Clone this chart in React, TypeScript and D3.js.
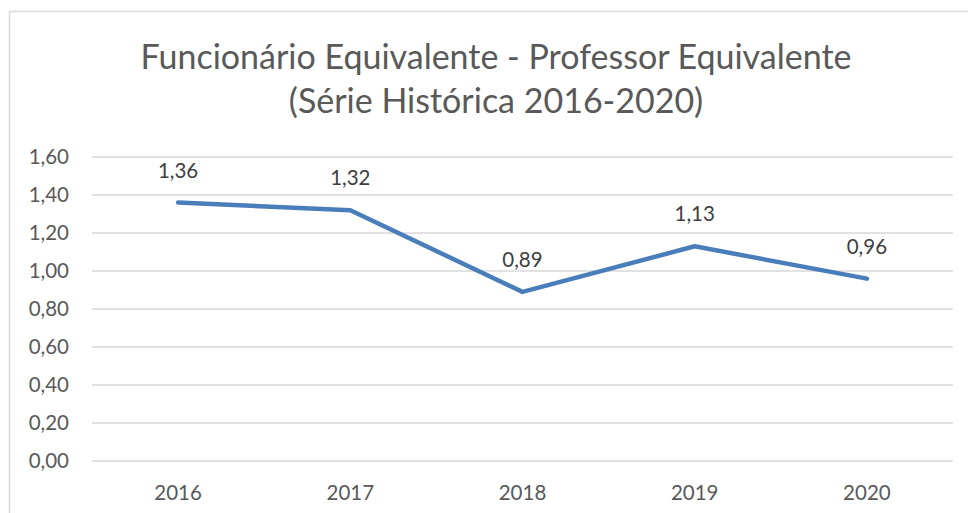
import * as d3 from "d3";
import React from "react";

const years = ["2016", "2017", "2018", "2019", "2020"];
const values = [1.36, 1.32, 0.89, 1.13, 0.96];
const yTicks = [0, 0.2, 0.4, 0.6, 0.8, 1.0, 1.2, 1.4, 1.6];
const titleLines = ["Funcionário Equivalente - Professor Equivalente", "(Série Histórica 2016-2020)"];

const W = 968;
const H = 513;
const FONT = "Lato, 'Open Sans', sans-serif";
const TEXT = "#595959";

export default function App() {
  const x = d3.scaleBand().domain(years).range([92, 953]);
  const y = d3.scaleLinear().domain([0, 1.6]).range([461, 157]);
  const fmt = (v: number) => v.toFixed(2).replace(".", ",");
  const cx = (yr: string) => x(yr)! + x.bandwidth() / 2;

  const pathD = d3
    .line<number>()
    .x((_, i) => cx(years[i]))
    .y((d) => y(d))(values);

  return (
    <svg
      width={W}
      height={H}
      style={{ position: "absolute", left: 0, top: 0, background: "#fff" }}
    >
      <rect x={9.5} y={11.5} width={W + 20} height={H + 20} fill="#fff" stroke="#d9d9d9" strokeWidth={1.5} />

      {titleLines.map((t, i) => (
        <text
          key={t}
          x={496}
          y={69 + i * 44}
          textAnchor="middle"
          fontFamily={FONT}
          fontSize={34}
          fill={TEXT}
        >
          {t}
        </text>
      ))}

      {yTicks.map((t) => (
        <g key={t}>
          <line x1={92} x2={953} y1={y(t)} y2={y(t)} stroke="#d9d9d9" strokeWidth={1.5} />
          <text
            x={69}
            y={y(t)}
            dy="0.36em"
            textAnchor="end"
            fontFamily={FONT}
            fontSize={20.5}
            fill={TEXT}
          >
            {fmt(t)}
          </text>
        </g>
      ))}

      {years.map((yr) => (
        <text
          key={yr}
          x={cx(yr)}
          y={500}
          textAnchor="middle"
          fontFamily={FONT}
          fontSize={20.5}
          fill={TEXT}
        >
          {yr}
        </text>
      ))}

      <path
        d={pathD!}
        fill="none"
        stroke="#4a7ebb"
        strokeWidth={4.5}
        strokeLinecap="round"
        strokeLinejoin="round"
      />

      {values.map((v, i) => (
        <text
          key={i}
          x={cx(years[i])}
          y={y(v) - 25}
          textAnchor="middle"
          fontFamily={FONT}
          fontSize={20.5}
          fill="#404040"
        >
          {fmt(v)}
        </text>
      ))}
    </svg>
  );
}
